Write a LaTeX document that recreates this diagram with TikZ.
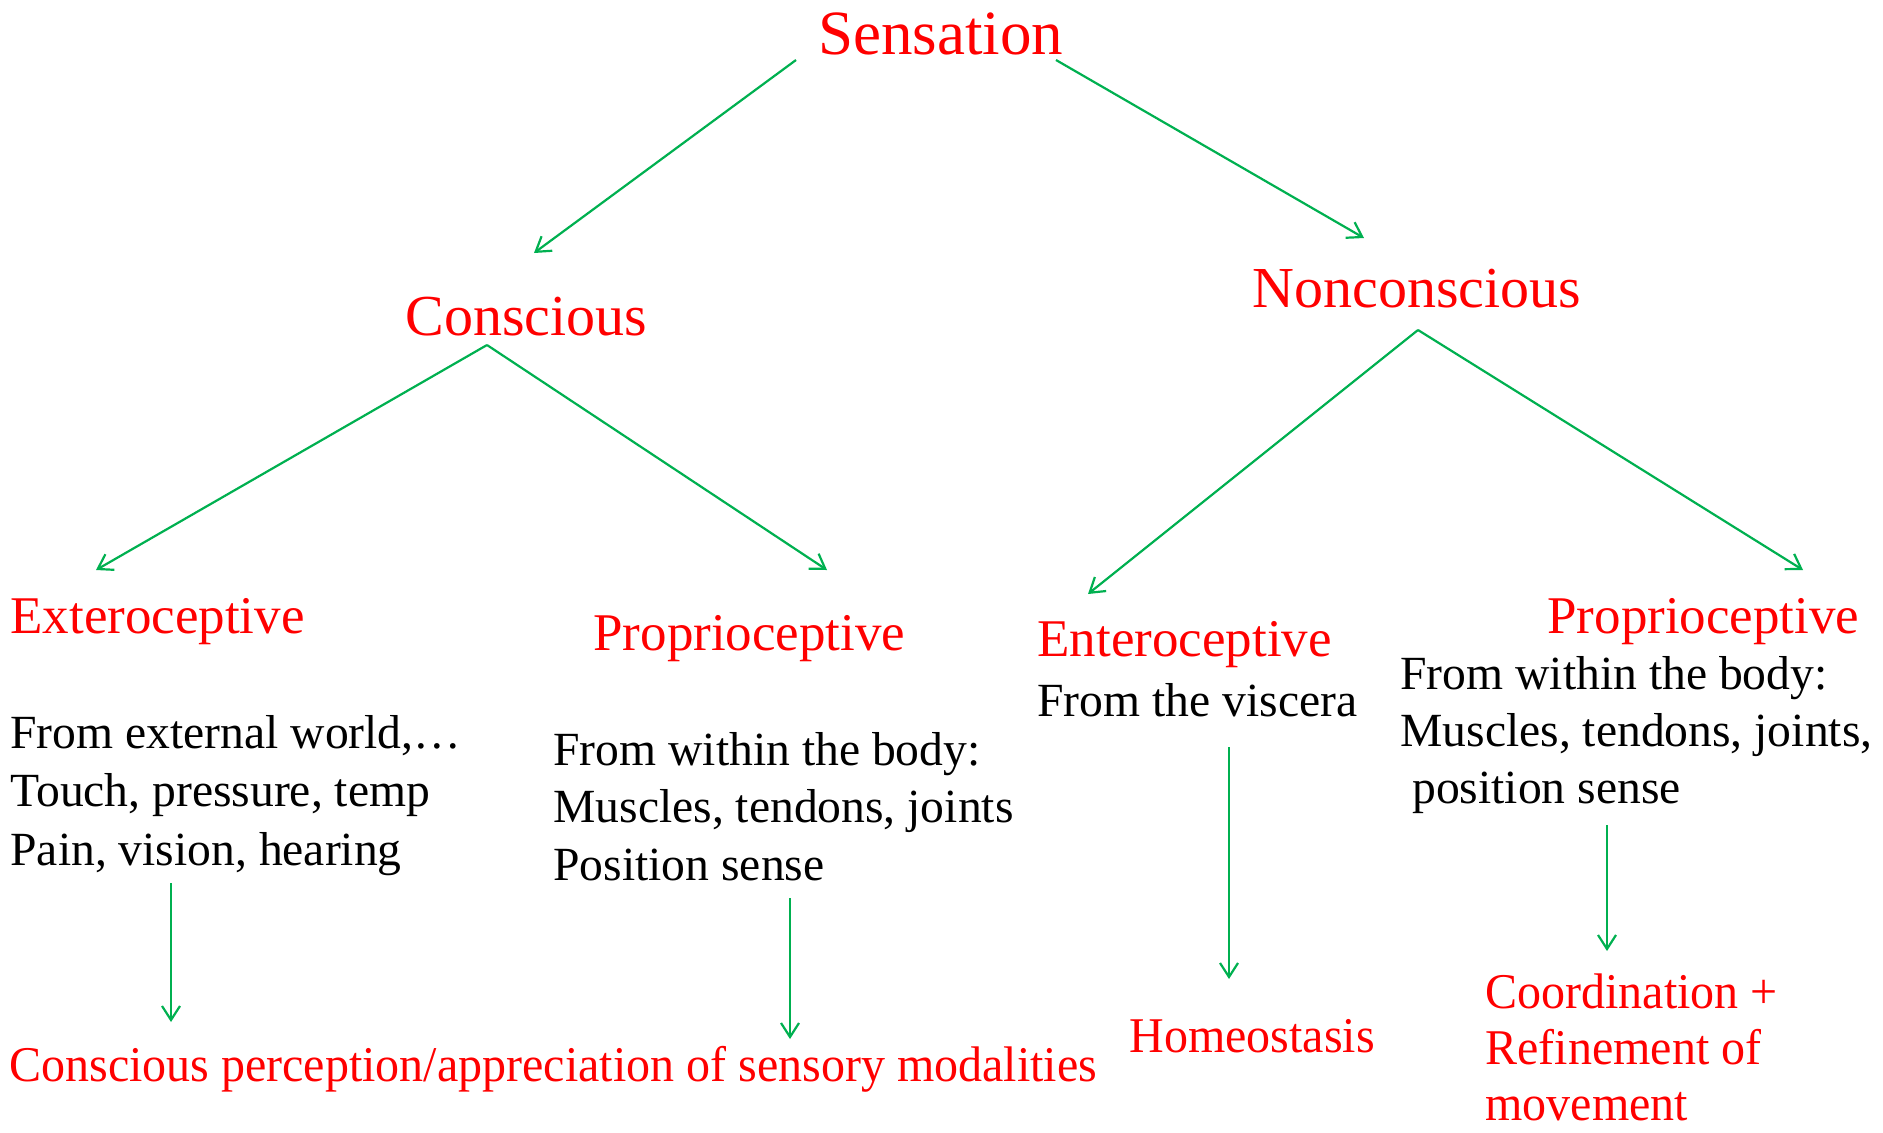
\documentclass[tikz,border=0pt]{standalone}
\usepackage{fontspec}
\setmainfont{Liberation Serif}
\newfontfamily\narrowfont[FakeStretch=0.96]{Liberation Serif}
\usetikzlibrary{arrows.meta}
\definecolor{arrowgreen}{RGB}{0,176,80}
\tikzset{
  every node/.style={inner sep=0pt, anchor=base west, align=left},
  top/.style={text=red, font=\fontsize{31.5pt}{36pt}\selectfont},
  branch/.style={text=red, font=\fontsize{29pt}{33pt}\selectfont},
  kind/.style={text=red, font=\fontsize{26.5pt}{30pt}\selectfont},
  desc/.style={font=\fontsize{23.8pt}{29pt}\selectfont},
  result/.style={text=red, font=\narrowfont\fontsize{25pt}{28pt}\selectfont},
  arr/.style={draw=arrowgreen, line width=1.1pt, -{Straight Barb[length=7pt,width=9pt]}},
}

\begin{document}
\begin{tikzpicture}[x=0.5pt, y=-0.5pt]
    \useasboundingbox (0,0) rectangle (1883,1132);

    % coordinates to be reused
    \coordinate (S1) at (796,60);
    \coordinate (S2) at (1056,60);
    \coordinate (C0) at (487,345);
    \coordinate (N0) at (1418,330);
    \coordinate (C1) at (534,253);
    \coordinate (N1) at (1364,238);
    \coordinate (E1) at (96,570);
    \coordinate (P1) at (827,570);
    \coordinate (V1) at (1088,594);
    \coordinate (Q1) at (1803,570);
    \coordinate (E2) at (171,883);
    \coordinate (E3) at (171,1022);
    \coordinate (P2) at (790,898);
    \coordinate (P3) at (790,1039);
    \coordinate (V2) at (1229,747);
    \coordinate (V3) at (1229,979);
    \coordinate (Q2) at (1607,825);
    \coordinate (Q3) at (1607,951);

    % add labels (multi-line nodes sit on their last baseline)
    \node [top] (sens) at (818,54) {Sensation};
    \node [branch] (cons) at (405,335) {Conscious};
    \node [branch] (noncons) at (1252,307) {Nonconscious};

    \node [kind] (extero) at (10,633) {Exteroceptive};
    \node [kind] (proprio) at (593,650) {Proprioceptive};
    \node [kind] (entero) at (1037,656) {Enteroceptive};
    \node [kind] (proprio2) at (1547,633) {Proprioceptive};

    \node [desc, font=\fontsize{23.8pt}{29.25pt}\selectfont] (exterotxt) at (10,865)
        {From external world,\dots\\Touch, pressure, temp\\Pain, vision, hearing};
    \node [desc, font=\fontsize{23.8pt}{28.75pt}\selectfont] (propriotxt) at (553,880)
        {From within the body:\\Muscles, tendons, joints\\Position sense};
    \node [desc] (enterotxt) at (1037,716) {From the viscera};
    \node [desc, font=\fontsize{23.8pt}{28.5pt}\selectfont] (proprio2txt) at (1400,803)
        {From within the body:\\Muscles, tendons, joints,\\\hspace*{0.25em}position sense};

    \node [result] (percept) at (9,1081) {Conscious perception/appreciation of sensory modalities};
    \node [result] (homeo) at (1129,1052) {Homeostasis};
    \node [result] (coord) at (1485,1120) {Coordination +\\Refinement of\\movement};

    % draw figure
    \draw [arr] (S1) -- (C1);
    \draw [arr] (S2) -- (N1);
    \draw [arr] (C0) -- (E1);
    \draw [arr] (C0) -- (P1);
    \draw [arr] (N0) -- (V1);
    \draw [arr] (N0) -- (Q1);
    \draw [arr] (E2) -- (E3);
    \draw [arr] (P2) -- (P3);
    \draw [arr] (V2) -- (V3);
    \draw [arr] (Q2) -- (Q3);
\end{tikzpicture}
\end{document}
